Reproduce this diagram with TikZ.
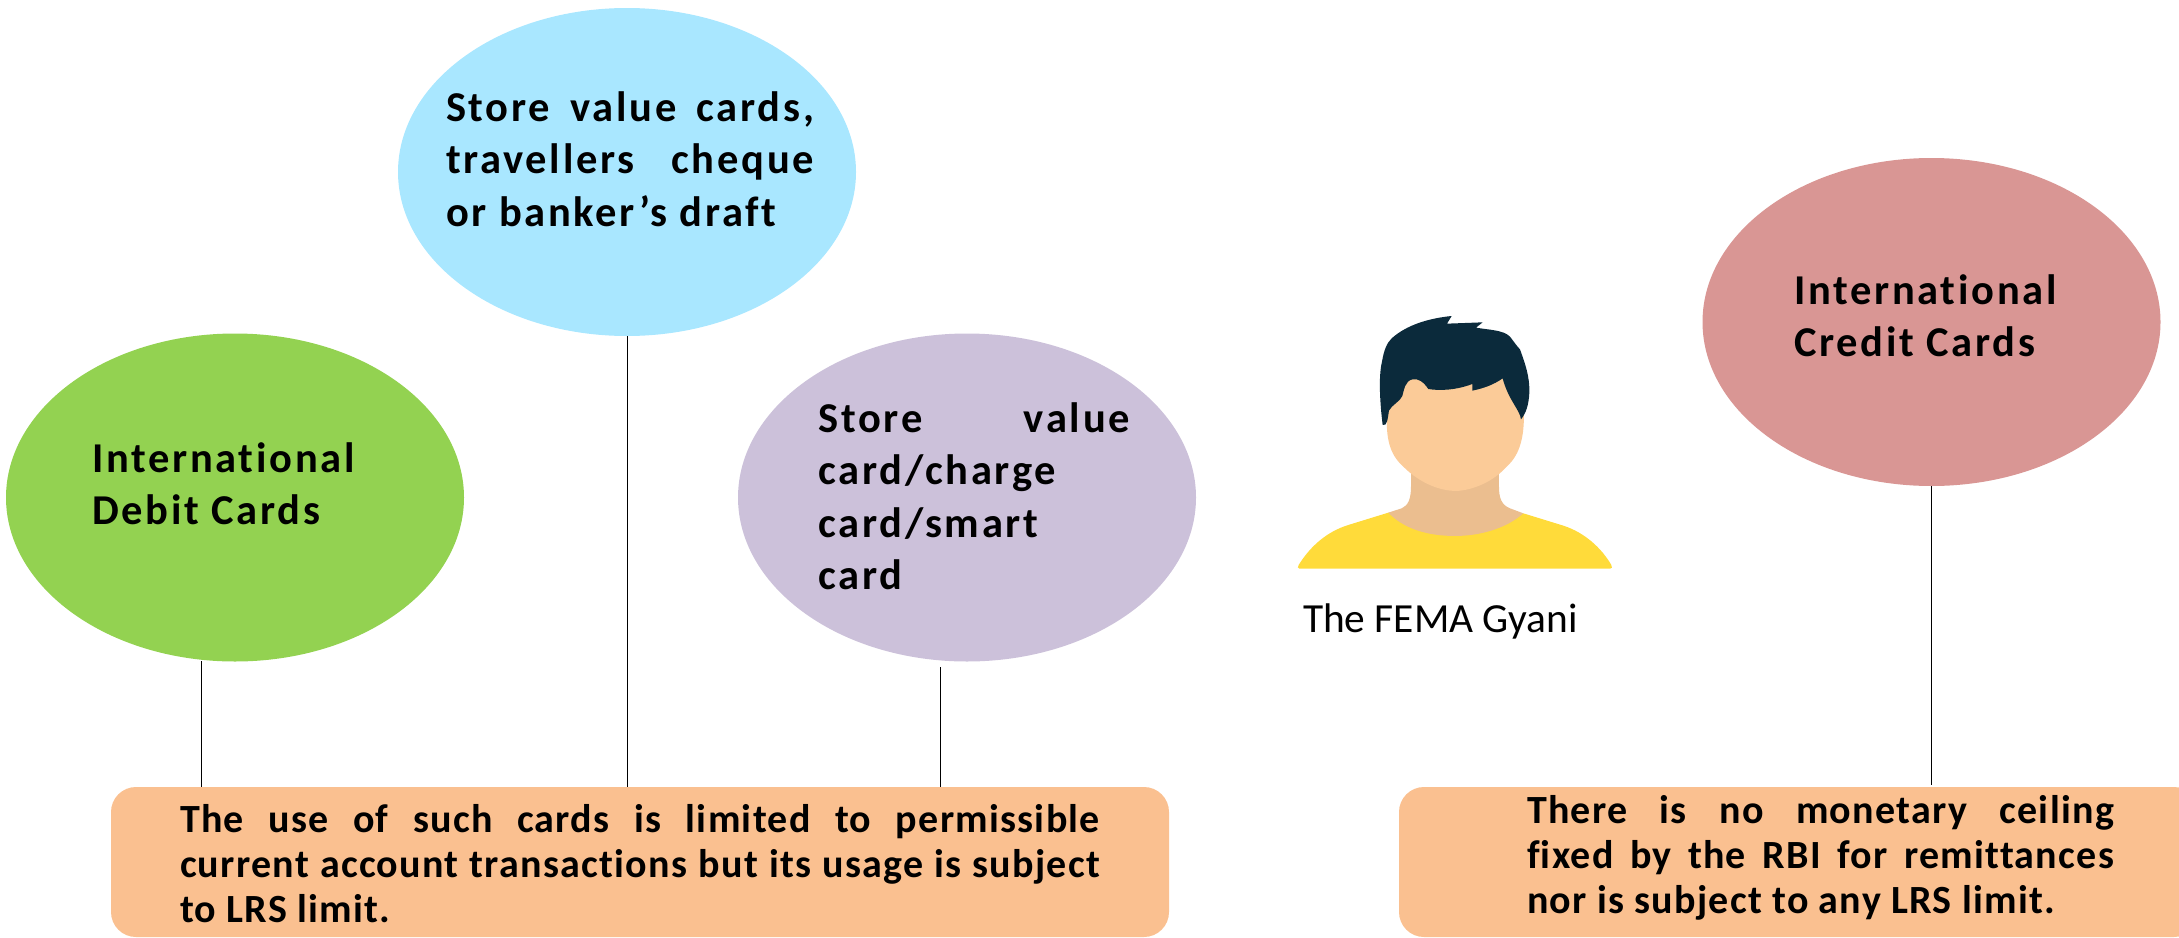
\documentclass[tikz,border=0pt]{standalone}
\usepackage{fontspec}
\setmainfont{Carlito}[Ligatures=NoCommon]
\newfontfamily\cardfont[LetterSpace=6.4,Ligatures=NoCommon]{Carlito Bold}
\newfontfamily\notefont[LetterSpace=3.2,Ligatures=NoCommon]{Carlito Bold}
\usetikzlibrary{shapes.geometric,calc}
\hbadness=10000 \hfuzz=100pt
\definecolor{cgreen}{HTML}{93D251}
\definecolor{cblue}{HTML}{A9E7FF}
\definecolor{cpurple}{HTML}{CCC1DA}
\definecolor{cred}{HTML}{D99694}
\definecolor{corange}{HTML}{FAC090}
\definecolor{hair}{HTML}{0B2A3B}
\definecolor{skin}{HTML}{FBCB98}
\definecolor{neck}{HTML}{EBBE8F}
\definecolor{shirt}{HTML}{FFDB3A}
\newcommand{\cardtext}[2]{\parbox[t]{#1}{\cardfont\fontsize{42.5}{52.5}\selectfont\noindent #2}}
\newcommand{\notetext}[2]{\parbox[t]{#1}{\notefont\fontsize{40}{45}\selectfont\noindent #2}}
\tikzset{
  cardnode/.style={ellipse,minimum width=458pt,minimum height=328pt,inner sep=0pt,draw=none},
  notebox/.style={rounded corners=25pt,fill=corange,draw=none},
  label/.style={anchor=base west,inner sep=0pt,outer sep=0pt},
  link/.style={draw=black,line width=1pt}
}
\begin{document}
\begin{tikzpicture}[x=1pt,y=-1pt]
\useasboundingbox (0,0) rectangle (2179,937);
\node[cardnode,fill=cblue] (blue) at (627,172) {};
\node[cardnode,fill=cgreen] (green) at (235,497.5) {};
\node[cardnode,fill=cpurple] (purple) at (967,497.5) {};
\node[cardnode,fill=cred] (red) at (1931.5,322) {};
\node[notebox,inner sep=0pt,minimum width=1058pt,minimum height=150pt] (note1) at (640,862) {};
\node[notebox,inner sep=0pt,minimum width=800pt,minimum height=150pt] (note2) at (1799,862) {};
\coordinate (g1) at (201,661);
\coordinate (p1) at (940.5,667);
\draw[link] (g1) -- (g1 |- note1.north);
\draw[link] (blue.south) -- (blue.south |- note1.north);
\draw[link] (p1) -- (p1 |- note1.north);
\coordinate (r1) at (red.south);
\draw[link] (r1) -- ($(r1 |- note2.north)+(0,-2)$);
\node[label] (tblue) at (446,121) {\cardtext{368pt}{Store value cards,\linebreak travellers cheque\linebreak or banker’s draft}};
\node[label] (tgreen) at (92,472) {\cardtext{300pt}{International\\Debit Cards}};
\node[label] (tpurple) at (818.5,432) {\cardtext{311.5pt}{Store value\linebreak card/charge\\card/smart\\card}};
\node[label] (tred) at (1794,304) {\cardtext{300pt}{International\\Credit Cards}};
\node[label] (tnote1) at (180,832) {\notetext{920pt}{The use of such cards is limited to permissible\linebreak current account transactions but its usage is subject\linebreak to LRS limit.}};
\node[label] (tnote2) at (1527,823) {\notetext{587pt}{There is no monetary ceiling\linebreak fixed by the RBI for remittances\linebreak nor is subject to any LRS limit.}};
\node[label] (tname) at (1303,632) {\fontsize{41.4}{48}\selectfont The FEMA Gyani};
\begin{scope}[shift={(1260,290)},x=0.3333pt,y=-0.3333pt]
\fill[shirt] (118,836) .. controls (112,836) and (113,830) .. (116,825)
  .. controls (150,770) and (200,725) .. (265,705) -- (385,668) -- (790,670) -- (910,707)
  .. controls (975,728) and (1025,775) .. (1054,825) .. controls (1058,832) and (1056,836) .. (1050,836) -- cycle;
\fill[neck] (453,540) -- (717,540) -- (717,590) .. controls (717,625) and (725,645) .. (750,655)
  -- (790,670) .. controls (740,715) and (660,738) .. (585,738)
  .. controls (500,738) and (430,715) .. (385,668) -- (425,655)
  .. controls (445,647) and (453,625) .. (453,590) -- cycle;
\fill[skin] (380,380) .. controls (380,440) and (385,490) .. (430,530)
  .. controls (480,580) and (540,603) .. (590,603)
  .. controls (640,600) and (700,575) .. (740,530)
  .. controls (785,490) and (792,430) .. (792,370)
  .. controls (792,270) and (700,230) .. (590,230)
  .. controls (470,230) and (380,280) .. (380,380) -- cycle;
\fill[hair] (368,405) .. controls (360,340) and (355,260) .. (366,215)
  .. controls (372,180) and (380,160) .. (395,145)
  .. controls (440,105) and (505,85) .. (575,78)
  -- (561,101) -- (668,97) -- (648,113)
  .. controls (690,120) and (730,120) .. (750,140)
  .. controls (762,155) and (770,168) .. (780,178)
  .. controls (795,220) and (810,260) .. (808,310)
  .. controls (806,345) and (798,370) .. (783,388)
  .. controls (780,360) and (745,330) .. (728,265)
  .. controls (700,285) and (670,295) .. (637,302)
  -- (637,282) .. controls (590,300) and (540,303) .. (505,297)
  .. controls (490,275) and (475,265) .. (458,268)
  .. controls (435,272) and (432,300) .. (427,318)
  .. controls (420,335) and (395,345) .. (387,362)
  .. controls (383,385) and (382,410) .. (368,405) -- cycle;
\end{scope}
\end{tikzpicture}
\end{document}
